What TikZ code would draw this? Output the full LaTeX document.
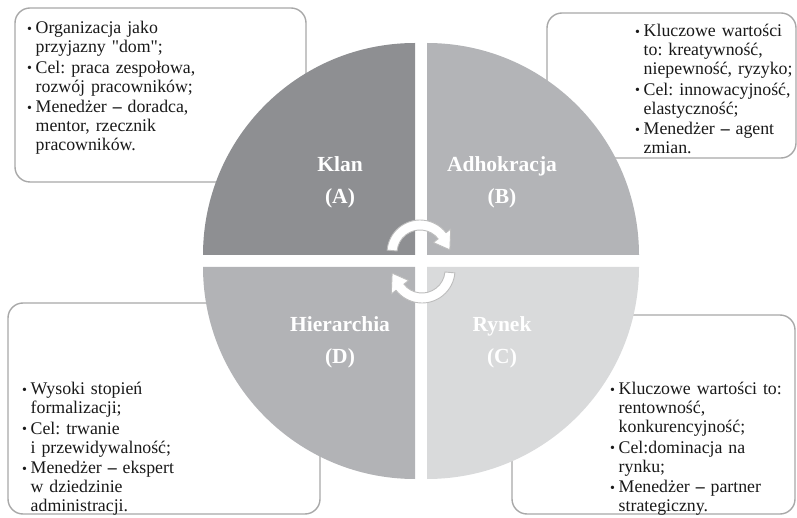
\documentclass[tikz,border=0pt]{standalone}
\usepackage{fontspec}
\setmainfont{Liberation Serif}
\definecolor{qA}{HTML}{8E8F92}
\definecolor{qB}{HTML}{B3B4B7}
\definecolor{qC}{HTML}{D9DADB}
\definecolor{qD}{HTML}{B2B3B6}
\definecolor{boxline}{HTML}{A8A8A8}
\definecolor{arrowline}{HTML}{BDBDBD}
\newcommand\bitem[1]{\par\hangindent=8.5pt\hangafter=1\noindent\makebox[8.5pt][l]{\raisebox{0.3pt}{\fontsize{14}{14}\selectfont\textbullet}}#1\par}
\newcommand\mdash{{\bfseries\textendash}}
\frenchspacing
\begin{document}
\begin{tikzpicture}[x=1pt,y=1pt,
  infobox/.style={draw=boxline,line width=1.4pt,rounded corners=15pt,fill=white},
  infotext/.style={anchor=north west,inner sep=0pt,text width=220pt,align=left,
    font=\fontsize{17.8}{19}\selectfont\frenchspacing,text=black!90},
  quadlabel/.style={align=center,text=white,inner sep=0pt,
    font=\fontsize{21.5}{32}\selectfont\bfseries},
  cycarrow/.style={draw=arrowline,line width=0.9pt,fill=white,line join=round}]
\useasboundingbox (0,0) rectangle (797,517);
% boxes
\draw[infobox] (15,335) rectangle (306,509);
\draw[infobox] (547,359) rectangle (796,504);
\draw[infobox] (8,3) rectangle (320,214);
\draw[infobox] (512,3) rectangle (795,202);
% quadrants
\fill[qA] (415,262) -- (203,262) arc[start angle=180,end angle=90,radius=212pt] -- cycle;
\fill[qB] (427,262) -- (427,474) arc[start angle=90,end angle=0,radius=212pt] -- cycle;
\fill[qC] (427,250) -- (639,250) arc[start angle=0,end angle=-90,radius=212pt] -- cycle;
\fill[qD] (415,250) -- (415,38) arc[start angle=-90,end angle=-180,radius=212pt] -- cycle;
% labels
\node[quadlabel] (la) at (340,335) {Klan\\(A)};
\node[quadlabel] (lb) at (502,335) {Adhokracja\\(B)};
\node[quadlabel] (ld) at (340,175) {Hierarchia\\(D)};
\node[quadlabel] (lc) at (502,175) {Rynek\\(C)};
% texts
\node[infotext] (ta) at (27,504) {\setlength\parskip{1.5pt}%
\bitem{Organizacja jako\newline przyjazny \textquotedbl dom\textquotedbl;}%
\bitem{Cel: praca zespołowa,\newline rozwój pracowników;}%
\bitem{Menedżer \mdash{} doradca,\newline mentor, rzecznik\newline pracowników.}};
\node[infotext] (tb) at (635,501) {\setlength\parskip{1.5pt}%
\bitem{Kluczowe wartości\newline to: kreatywność,\newline niepewność, ryzyko;}%
\bitem{Cel: innowacyjność,\newline elastyczność;}%
\bitem{Menedżer \mdash{} agent\newline zmian.}};
\node[infotext] (td) at (22,143) {\setlength\parskip{1.5pt}%
\bitem{Wysoki stopień\newline formalizacji;}%
\bitem{Cel: trwanie\newline i przewidywalność;}%
\bitem{Menedżer \mdash{} ekspert\newline w dziedzinie\newline administracji.}};
\node[infotext] (tc) at (610,143) {\setlength\parskip{1.5pt}%
\bitem{Kluczowe wartości to:\newline rentowność,\newline konkurencyjność;}%
\bitem{Cel:dominacja na\newline rynku;}%
\bitem{Menedżer \mdash{} partner\newline strategiczny.}};
% cycle arrows
\begin{scope}[shift={(420,264)}]
\draw[cycarrow] (175:33) arc[start angle=175,end angle=38,radius=33pt]
  -- (38:39) -- (6:30) -- (38:17) -- (38:23)
  arc[start angle=38,end angle=175,radius=23pt] -- cycle;
\end{scope}
\begin{scope}[shift={(422,247)},rotate=180]
\draw[cycarrow] (175:33) arc[start angle=175,end angle=38,radius=33pt]
  -- (38:39) -- (6:30) -- (38:17) -- (38:23)
  arc[start angle=38,end angle=175,radius=23pt] -- cycle;
\end{scope}
\end{tikzpicture}
\end{document}
